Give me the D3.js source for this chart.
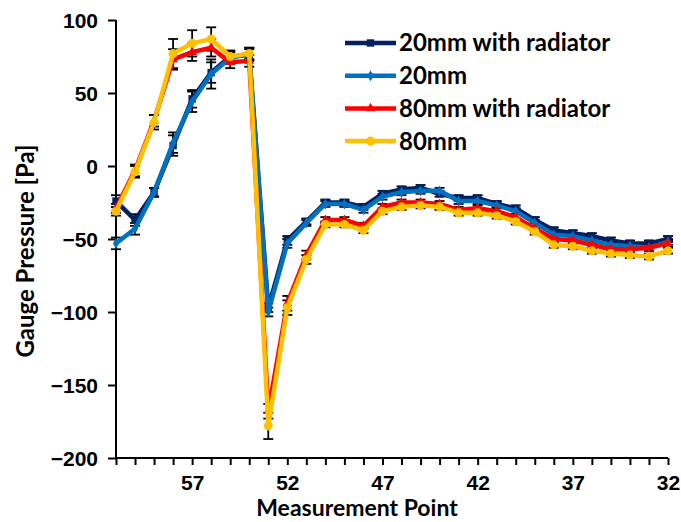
<!DOCTYPE html>
<html>
<head>
<meta charset="utf-8">
<script src="https://cdn.jsdelivr.net/npm/d3@7"></script>
<style>
  body { margin: 0; background: #fff; }
  svg { display: block; font-family: Lato, "Open Sans", sans-serif; font-weight: bold; }
</style>
</head>
<body>
<svg id="chart" width="681" height="522"></svg>
<script>
// measurement points, left to right
const points = [61, 60, 59, 58, 57, 56, 55, 54, 53, 52, 51, 50, 49, 48, 47, 46, 45, 44, 43, 42, 41, 40, 39, 38, 37, 36, 35, 34, 33, 32];
const labelledPoints = [57, 52, 47, 42, 37, 32];
const yTicks = [100, 50, 0, -50, -100, -150, -200];

const seriesNames = ["20mm with radiator", "20mm", "80mm with radiator", "80mm"];

const rad20 = [-24, -37, -18, 14, 46, 64, 75, 76, -97, -51, -38, -25, -25, -28, -19, -16, -15, -19, -22, -22, -26, -29, -37, -44, -46, -48, -51, -53, -53, -50];
const plain20 = [-53, -43, -18, 16, 44, 63, 74, 77, -100, -53, -39, -26, -26, -30, -21, -18, -17, -17, -24, -24, -27, -31, -39, -47, -48, -51, -54, -55, -56, -52];
const rad80 = [-29, -3, 31, 73, 78, 81, 71, 72, -168, -94, -61, -37, -37, -41, -28, -25, -25, -26, -30, -29, -31, -35, -43, -50, -51, -54, -57, -57, -56, -53];
const plain80 = [-31, -4, 30, 77, 84, 87, 75, 77, -178, -97, -64, -40, -40, -44, -31, -28, -27, -28, -32, -32, -34, -38, -45, -54, -55, -58, -60, -61, -62, -58];

// error bar half-lengths (Pa)
const rad20Err = [4, 4, 3, 7, 6, 7, 4, 4, 3, 3, 2, 2, 2, 2, 2, 2, 2, 2, 2, 2, 2, 2, 2, 2, 2, 2, 2, 2, 2, 2];
const plain20Err = [4, 4, 3, 7, 7, 10, 4, 4, 3, 3, 2, 2, 2, 2, 2, 2, 2, 2, 2, 2, 2, 2, 2, 2, 2, 2, 2, 2, 2, 2];
const rad80Err = [3, 4, 4, 7, 6, 6, 4, 4, 5, 5, 3, 2, 2, 2, 2, 2, 2, 2, 2, 2, 2, 2, 2, 2, 2, 2, 2, 2, 2, 2];
const plain80Err = [3, 4, 5, 10, 9, 8, 4, 4, 9, 5, 3, 2, 2, 2, 2, 2, 2, 2, 2, 2, 2, 2, 2, 2, 2, 2, 2, 2, 2, 2];

const series = [
  { name: seriesNames[0], values: rad20, err: rad20Err, color: "#002060", marker: d3.symbolSquare, size: 55 },
  { name: seriesNames[1], values: plain20, err: plain20Err, color: "#0070C0", marker: d3.symbolDiamond, size: 34 },
  { name: seriesNames[2], values: rad80, err: rad80Err, color: "#FF0000", marker: d3.symbolTriangle, size: 40 },
  { name: seriesNames[3], values: plain80, err: plain80Err, color: "#FFC000", marker: d3.symbolCircle, size: 64 }
];

const svg = d3.select("#chart");
const margin = { left: 116, right: 13, top: 20, bottom: 64 };
const width = 681, height = 522;

const x = d3.scaleLinear().domain([0, points.length - 1]).range([margin.left, width - margin.right]);
const y = d3.scaleLinear().domain([-200, 100]).range([height - margin.bottom, margin.top]);

// y axis
const yAxis = svg.append("g")
  .attr("transform", `translate(${margin.left},0)`)
  .call(d3.axisLeft(y).tickValues(yTicks).tickSize(8).tickPadding(10).tickFormat(d3.format("d")));
yAxis.select(".domain").attr("stroke", "#000").attr("stroke-width", 2).attr("d", `M0,${y(100)}V${y(-200)}`);
yAxis.selectAll(".tick line").attr("stroke", "#000").attr("stroke-width", 2);
yAxis.selectAll("text").style("font-size", "21px").style("font-weight", "bold").attr("fill", "#000").attr("dy", "0.35em");

// x axis
const xAxis = svg.append("g")
  .attr("transform", `translate(0,${y(-200)})`)
  .call(d3.axisBottom(x).tickValues(d3.range(points.length)).tickSize(7).tickPadding(10)
    .tickFormat(i => labelledPoints.includes(points[i]) ? points[i] : ""));
xAxis.select(".domain").attr("stroke", "#000").attr("stroke-width", 2).attr("d", `M${x(0)},0H${x(points.length - 1)}`);
xAxis.selectAll(".tick line").attr("stroke", "#000").attr("stroke-width", 2);
xAxis.selectAll(".tick text").filter(function () { return this.textContent === ""; }).remove();
xAxis.selectAll("text").style("font-size", "21px").style("font-weight", "bold").attr("fill", "#000");

// axis titles
svg.append("text")
  .attr("transform", "rotate(-90)")
  .attr("x", -251)
  .attr("y", 34)
  .attr("text-anchor", "middle")
  .style("font-size", "24px")
  .text("Gauge Pressure [Pa]");

svg.append("text")
  .attr("x", 357)
  .attr("y", 516)
  .attr("text-anchor", "middle")
  .style("font-size", "23px")
  .text("Measurement Point");

const line = d3.line()
  .x((d, i) => x(i))
  .y(d => y(d));

// error bars underneath the lines
const errLayer = svg.append("g").attr("stroke", "#000").attr("stroke-width", 1.8);
series.forEach(s => {
  const eb = errLayer.append("g").selectAll(".err")
    .data(s.values.map((v, i) => ({ v, e: s.err[i], i })))
    .enter().append("g")
    .attr("class", "err");
  eb.append("line")
    .attr("x1", d => x(d.i)).attr("x2", d => x(d.i))
    .attr("y1", d => y(d.v - d.e)).attr("y2", d => y(d.v + d.e));
  eb.append("line")
    .attr("x1", d => x(d.i) - 5).attr("x2", d => x(d.i) + 5)
    .attr("y1", d => y(d.v + d.e)).attr("y2", d => y(d.v + d.e));
  eb.append("line")
    .attr("x1", d => x(d.i) - 5).attr("x2", d => x(d.i) + 5)
    .attr("y1", d => y(d.v - d.e)).attr("y2", d => y(d.v - d.e));
});

series.forEach(s => {
  const g = svg.append("g");
  g.append("path")
    .attr("d", line(s.values))
    .attr("fill", "none")
    .attr("stroke", s.color)
    .attr("stroke-width", 4.5)
    .attr("stroke-linejoin", "round");
  g.selectAll(".marker")
    .data(s.values)
    .enter().append("path")
    .attr("class", "marker")
    .attr("transform", (d, i) => `translate(${x(i)},${y(d)})`)
    .attr("d", d3.symbol().type(s.marker).size(s.size))
    .attr("fill", s.color);
});

// legend
const legend = svg.append("g").attr("transform", "translate(345,43)");
series.forEach((s, i) => {
  const row = legend.append("g").attr("transform", `translate(0,${i * 32.7})`);
  row.append("line")
    .attr("x1", 0).attr("x2", 51)
    .attr("stroke", s.color).attr("stroke-width", 4.5);
  row.append("path")
    .attr("transform", "translate(25.5,0)")
    .attr("d", d3.symbol().type(s.marker).size(s.size))
    .attr("fill", s.color);
  row.append("text")
    .attr("x", 54)
    .attr("dy", "0.35em")
    .style("font-size", "24px")
    .text(s.name);
});
</script>
</body>
</html>
